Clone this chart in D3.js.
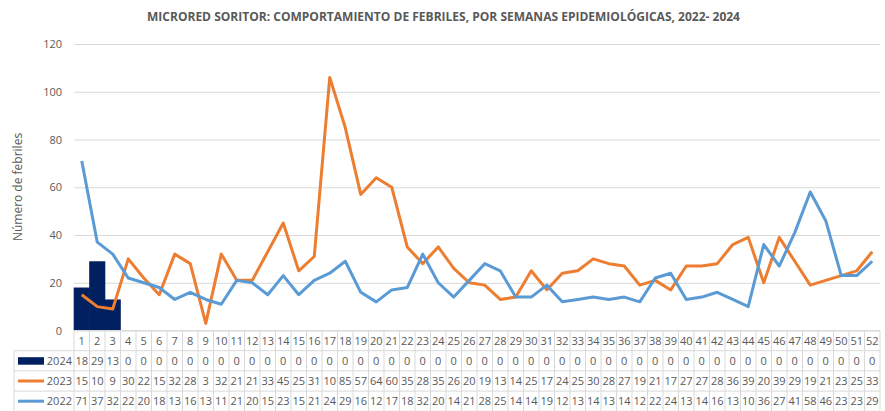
<!DOCTYPE html>
<html>
<head>
<meta charset="utf-8">
<script src="https://cdn.jsdelivr.net/npm/d3@7"></script>
<style>
  body { margin: 0; background: #fff; }
  text { font-family: "Open Sans", "Noto Sans", sans-serif; fill: #595959; }
</style>
</head>
<body>
<div id="chart"></div>
<script>
"use strict";

var weeks = d3.range(1, 53);
var yTicks = [0, 20, 40, 60, 80, 100, 120];

var series2024 = [18, 29, 13, 0, 0, 0, 0, 0, 0, 0, 0, 0, 0, 0, 0, 0, 0, 0, 0, 0, 0, 0, 0, 0, 0, 0,
    0, 0, 0, 0, 0, 0, 0, 0, 0, 0, 0, 0, 0, 0, 0, 0, 0, 0, 0, 0, 0, 0, 0, 0, 0, 0];
var series2023 = [15, 10, 9, 30, 22, 15, 32, 28, 3, 32, 21, 21, 33, 45, 25, 31, 106, 85, 57, 64, 60, 35, 28, 35, 26, 20,
    19, 13, 14, 25, 17, 24, 25, 30, 28, 27, 19, 21, 17, 27, 27, 28, 36, 39, 20, 39, 29, 19, 21, 23, 25, 33];
var series2022 = [71, 37, 32, 22, 20, 18, 13, 16, 13, 11, 21, 20, 15, 23, 15, 21, 24, 29, 16, 12, 17, 18, 32, 20, 14, 21,
    28, 25, 14, 14, 19, 12, 13, 14, 13, 14, 12, 22, 24, 13, 14, 16, 13, 10, 36, 27, 41, 58, 46, 23, 23, 29];

var titleText = "MICRORED SORITOR: COMPORTAMIENTO  DE FEBRILES, POR SEMANAS EPIDEMIOLÓGICAS, 2022- 2024";
var yLabel = "Número de febriles";

var width = 885;
var height = 411;
var plotLeft = 74;
var plotRight = 880;
var plotTop = 44;
var plotBottom = 330.5;
var tableLeft = 14;
var rowH = 20.2;

var gridColour = "#D9D9D9";

var rows = [
    { name: "2024", values: series2024, colour: "#002060", type: "bar" },
    { name: "2023", values: series2023, colour: "#ED7D31", type: "line" },
    { name: "2022", values: series2022, colour: "#5B9BD5", type: "line" }
];

var svg = d3.select("#chart").append("svg")
    .attr("width", width)
    .attr("height", height);

var x = d3.scaleBand().domain(weeks).range([plotLeft, plotRight]).padding(0);
var y = d3.scaleLinear().domain([0, 120]).range([plotBottom, plotTop]);

//title
svg.append("text")
    .attr("x", 443.5)
    .attr("y", 21)
    .attr("text-anchor", "middle")
    .attr("textLength", 593)
    .attr("lengthAdjust", "spacingAndGlyphs")
    .style("font-size", "12px")
    .style("font-weight", "bold")
    .text(titleText);

//y axis label
svg.append("text")
    .attr("transform", "translate(22,187) rotate(-90)")
    .attr("text-anchor", "middle")
    .style("font-size", "12px")
    .text(yLabel);

//gridlines and tick labels
var yAxis = d3.axisLeft(y).tickValues(yTicks).tickSize(-(plotRight - plotLeft)).tickPadding(12);
var yG = svg.append("g").attr("transform", "translate(" + plotLeft + ",0)").call(yAxis);
yG.select(".domain").remove();
yG.selectAll(".tick line").attr("stroke", gridColour);
yG.selectAll(".tick text")
    .style("font-size", "11px")
    .style("font-family", "'Open Sans', 'Noto Sans', sans-serif")
    .attr("fill", "#595959");

//bars for 2024
svg.append("g").selectAll("rect")
    .data(weeks.filter(function (w, i) { return series2024[i] > 0; }))
    .enter().append("rect")
    .attr("x", function (w) { return x(w) - 0.3; })
    .attr("width", x.bandwidth() + 0.6)
    .attr("y", function (w) { return y(series2024[w - 1]); })
    .attr("height", function (w) { return plotBottom - y(series2024[w - 1]); })
    .attr("fill", rows[0].colour);

//lines
var line = d3.line()
    .x(function (d, i) { return x(weeks[i]) + x.bandwidth() / 2; })
    .y(function (d) { return y(d); });

rows.filter(function (r) { return r.type === "line"; }).forEach(function (r) {
    svg.append("path")
        .datum(r.values)
        .attr("d", line)
        .attr("fill", "none")
        .attr("stroke", r.colour)
        .attr("stroke-width", 3)
        .attr("stroke-linejoin", "round");
});

//data table
var table = svg.append("g");
var tableBottom = plotBottom + rowH * 4;

//horizontal lines
table.append("line")
    .attr("x1", plotLeft).attr("x2", plotRight)
    .attr("y1", plotBottom).attr("y2", plotBottom)
    .attr("stroke", gridColour);
for (var r = 1; r <= 4; r++) {
    table.append("line")
        .attr("x1", tableLeft).attr("x2", plotRight)
        .attr("y1", plotBottom + rowH * r).attr("y2", plotBottom + rowH * r)
        .attr("stroke", gridColour);
}

//vertical lines
weeks.forEach(function (w) {
    table.append("line")
        .attr("x1", x(w)).attr("x2", x(w))
        .attr("y1", plotBottom).attr("y2", tableBottom)
        .attr("stroke", gridColour);
});
table.append("line")
    .attr("x1", plotRight).attr("x2", plotRight)
    .attr("y1", plotBottom).attr("y2", tableBottom)
    .attr("stroke", gridColour);
table.append("line")
    .attr("x1", tableLeft).attr("x2", tableLeft)
    .attr("y1", plotBottom + rowH).attr("y2", tableBottom)
    .attr("stroke", gridColour);

//fit a cell label into the column, dropping digits like the spreadsheet does
function fitText(sel) {
    sel.each(function () {
        var node = this;
        var t = node.textContent;
        while (t.length > 1 && node.getComputedTextLength() > x.bandwidth() - 1) {
            t = t.slice(0, -1);
            node.textContent = t;
        }
    });
}

//week numbers
table.selectAll("text.week")
    .data(weeks)
    .enter().append("text")
    .attr("class", "week")
    .attr("x", function (w) { return x(w) + x.bandwidth() / 2; })
    .attr("y", plotBottom + rowH / 2 + 4)
    .attr("text-anchor", "middle")
    .style("font-size", "11px")
    .text(function (w) { return w; })
    .call(fitText);

rows.forEach(function (row, ri) {
    var rowY = plotBottom + rowH * (ri + 1);

    //legend key
    if (row.type === "bar") {
        table.append("rect")
            .attr("x", 18).attr("y", rowY + 6.5)
            .attr("width", 26).attr("height", 7.5)
            .attr("fill", row.colour);
    } else {
        table.append("line")
            .attr("x1", 18).attr("x2", 44)
            .attr("y1", rowY + rowH / 2).attr("y2", rowY + rowH / 2)
            .attr("stroke", row.colour)
            .attr("stroke-width", 3);
    }
    table.append("text")
        .attr("x", 72)
        .attr("y", rowY + rowH / 2 + 4)
        .attr("text-anchor", "end")
        .style("font-size", "11px")
        .text(row.name);

    table.selectAll("text.v" + row.name)
        .data(row.values)
        .enter().append("text")
        .attr("class", "v" + row.name)
        .attr("x", function (d, i) { return x(weeks[i]) + x.bandwidth() / 2; })
        .attr("y", rowY + rowH / 2 + 4)
        .attr("text-anchor", "middle")
        .style("font-size", "11px")
        .text(function (d) { return d; })
        .call(fitText);
});
</script>
</body>
</html>
